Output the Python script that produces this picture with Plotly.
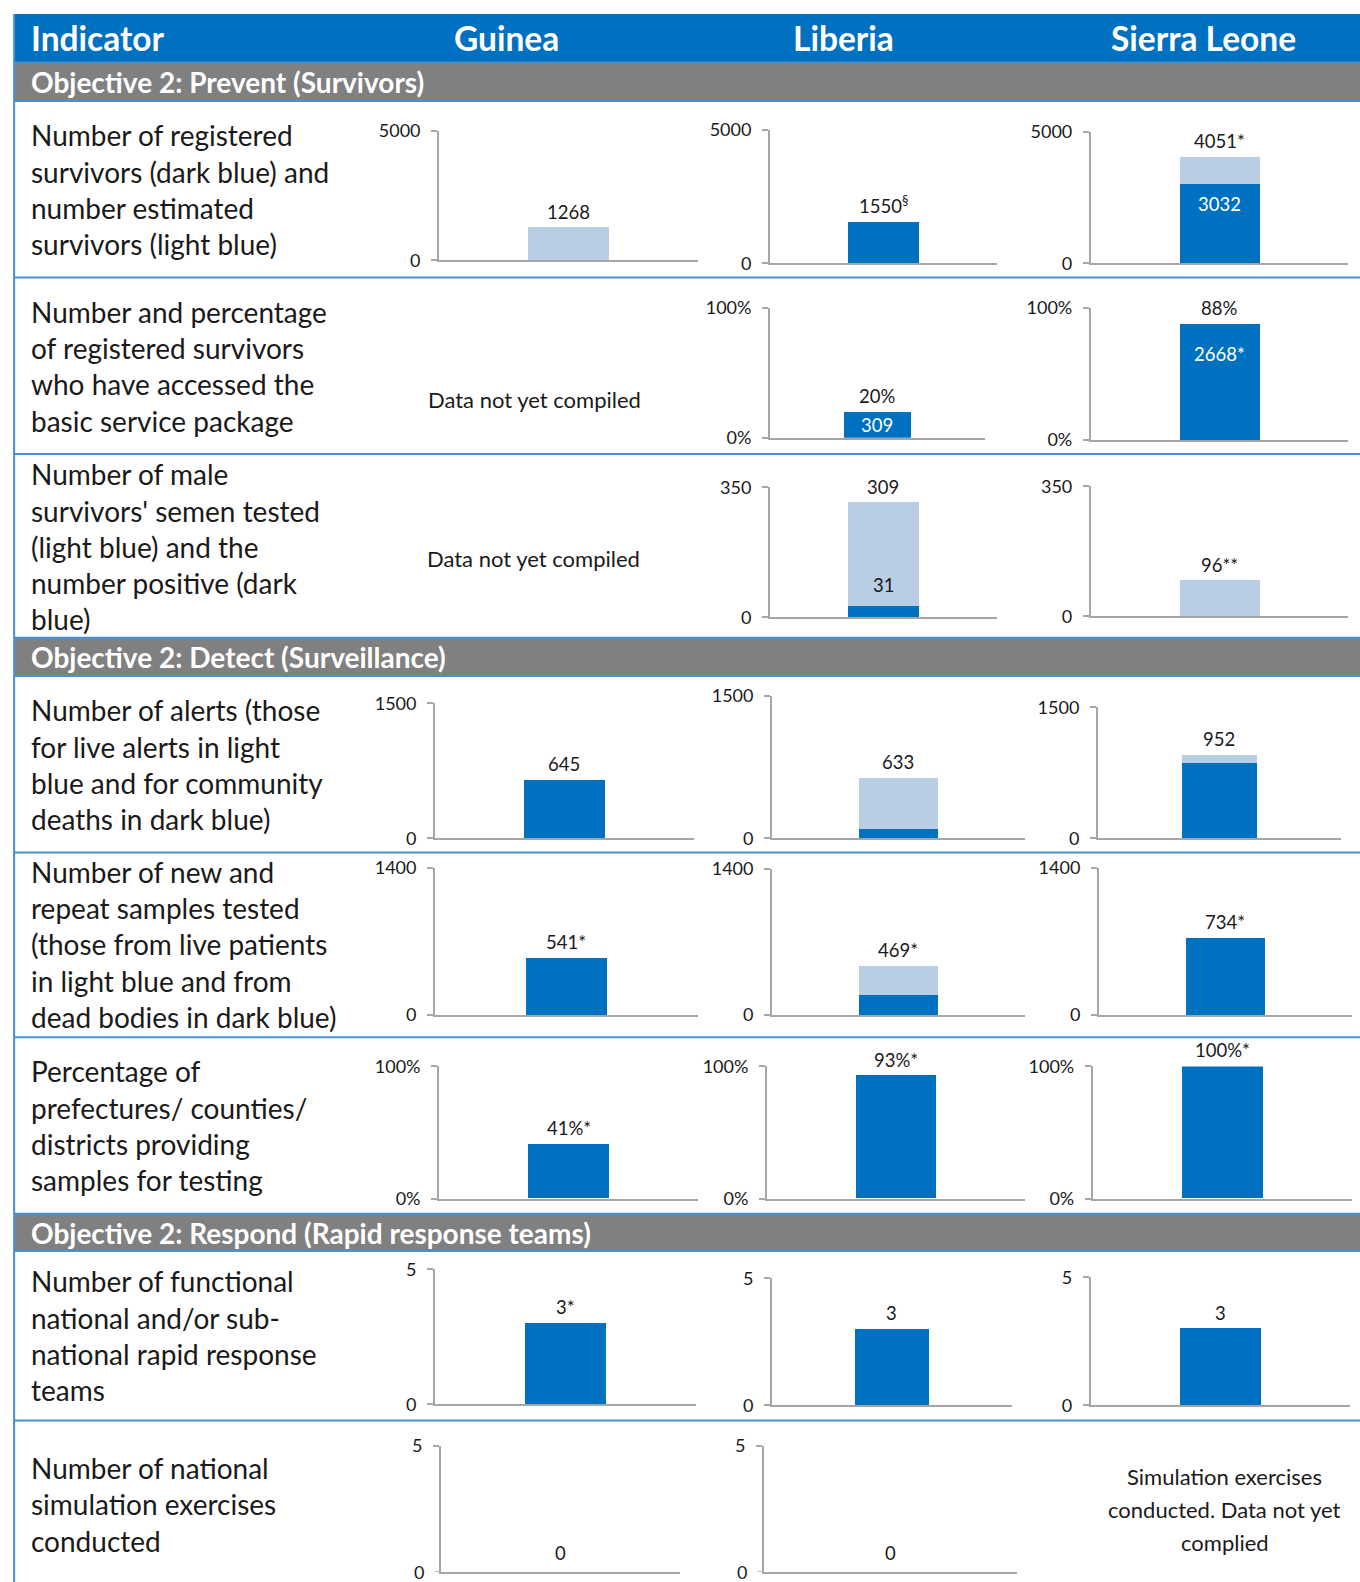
import plotly.graph_objects as go

W, H = 1360, 1582
S = 1360 / 1348.0  # reference-view px -> page px

# ---------------- DATA ----------------
countries = ["Guinea", "Liberia", "Sierra Leone"]
section_titles = [
    "Objective 2: Prevent (Survivors)",
    "Objective 2: Detect (Surveillance)",
    "Objective 2: Respond (Rapid response teams)",
]
indicator_lines = [
    ["Number of registered", "survivors (dark blue) and", "number estimated", "survivors (light blue)"],
    ["Number and percentage", "of registered survivors", "who have accessed the", "basic service package"],
    ["Number of male", "survivors' semen tested", "(light blue) and the", "number positive (dark", "blue)"],
    ["Number of alerts (those", "for live alerts in light", "blue and for community", "deaths in dark blue)"],
    ["Number of new and", "repeat samples tested", "(those from live patients", "in light blue and from", "dead bodies in dark blue)"],
    ["Percentage of", "prefectures/ counties/", "districts providing", "samples for testing"],
    ["Number of functional", "national and/or sub-", "national rapid response", "teams"],
    ["Number of national", "simulation exercises", "conducted"],
]
y_max = [5000, 100, 350, 1500, 1400, 100, 5, 5]
tick_top = ["5000", "100%", "350", "1500", "1400", "100%", "5", "5"]
tick_bottom = ["0", "0%", "0", "0", "0", "0%", "0", "0"]

# per indicator: values for Guinea, Liberia, Sierra Leone (None = no chart)
dark_values = [
    [0, 1550, 3032],
    [None, 20, 88],
    [None, 31, 0],
    [645, 95, 860],
    [541, 193, 734],
    [41, 93, 100],
    [3, 3, 3],
    [0, 0, None],
]
light_values = [
    [1268, 0, 1019],
    [None, 0, 0],
    [None, 278, 96],
    [0, 538, 92],
    [0, 276, 0],
    [0, 0, 0],
    [0, 0, 0],
    [0, 0, None],
]
top_labels = [
    ["1268", "1550<sup>§</sup>", "4051*"],
    [None, "20%", "88%"],
    [None, "309", "96**"],
    ["645", "633", "952"],
    ["541*", "469*", "734*"],
    ["41%*", "93%*", "100%*"],
    ["3*", "3", "3"],
    ["0", "0", None],
]
inner_labels = [
    [None, None, "3032"],
    [None, "309", "2668*"],
    [None, "31", None],
    [None, None, None],
    [None, None, None],
    [None, None, None],
    [None, None, None],
    [None, None, None],
]
notes = {
    (1, 0): ["Data not yet compiled"],
    (2, 0): ["Data not yet compiled"],
    (7, 2): ["Simulation exercises", "conducted. Data not yet", "complied"],
}

# ---------------- LAYOUT (reference px) ----------------
DARK = "#0070C0"
LIGHT = "#B9CDE5"
GRAY = "#808080"
SEP = "#4A8FD4"
AXIS = "#A6A6A6"
TXT = "#1a1a1a"
FONT = "Lato"
TICKLEN, STANDOFF = 6, 7

# chart boxes: (y-axis x, x-axis end, top tick y, baseline y) in view px
boxes = [
    [(435, 692, 130, 258), (763, 988, 129, 261), (1081, 1336, 131, 261)],
    [None, (763, 976, 305, 434), (1081, 1336, 305, 436)],
    [None, (763, 988, 483, 612), (1081, 1336, 482, 611)],
    [(431, 688, 697, 831), (765, 1016, 690, 831), (1088, 1329, 701, 831)],
    [(431, 692, 860, 1006), (765, 1016, 861, 1006), (1089, 1340, 860, 1006)],
    [(435, 692, 1057, 1188), (760, 1016, 1057, 1188), (1083, 1340, 1057, 1188)],
    [(431, 690, 1258, 1392), (765, 1003, 1267, 1393), (1081, 1338, 1266, 1393)],
    [(437, 674, 1433, 1558), (757, 1008, 1433, 1558), None],
]
first_line_y = [134, 309, 470, 704, 864, 1062, 1270, 1455]
note_pos = {(1, 0): (530, 396), (2, 0): (529, 554), (7, 2): (1214, 1463)}
sep_lines = [62, 100, 275, 450, 632, 670, 845, 1028, 1203, 1240, 1408]
gray_bands = [(62, 100), (632, 670), (1203, 1240)]
header_band = (14, 62)
left_x = 14
col_header_x = [(29, "left"), (502, "center"), (836, "center"), (1193, "center")]
LINE_STEP = 36


def fx(v):
    return v * S / W


def fy(v):
    return 1 - v * S / H


fig = go.Figure()
shapes, annotations = [], []

# backgrounds
shapes.append(dict(type="rect", xref="paper", yref="paper", x0=fx(left_x), x1=1,
                   y0=fy(header_band[1]), y1=fy(header_band[0]), fillcolor=DARK, line_width=0, layer="below"))
for (a, b) in gray_bands:
    shapes.append(dict(type="rect", xref="paper", yref="paper", x0=fx(left_x), x1=1,
                       y0=fy(b), y1=fy(a), fillcolor=GRAY, line_width=0, layer="below"))
for yv in sep_lines:
    shapes.append(dict(type="line", xref="paper", yref="paper", x0=fx(left_x), x1=1,
                       y0=fy(yv), y1=fy(yv), line=dict(color=SEP, width=2)))
shapes.append(dict(type="line", xref="paper", yref="paper", x0=fx(left_x), x1=fx(left_x),
                   y0=0, y1=fy(header_band[0]), line=dict(color=SEP, width=2)))

# column header
for (xv, anc), txt in zip(col_header_x, ["Indicator"] + countries):
    annotations.append(dict(xref="paper", yref="paper", x=fx(xv), y=fy(38), text="<b>%s</b>" % txt,
                            xanchor=anc, yanchor="middle", showarrow=False,
                            font=dict(family=FONT, size=33.5, color="white")))
# section titles
for (a, b), txt in zip(gray_bands, section_titles):
    annotations.append(dict(xref="paper", yref="paper", x=fx(29), y=fy((a + b) / 2 + 0.5), text="<b>%s</b>" % txt,
                            xanchor="left", yanchor="middle", showarrow=False,
                            font=dict(family=FONT, size=28, color="white")))
# indicator texts
for r, lines in enumerate(indicator_lines):
    for k, ln in enumerate(lines):
        annotations.append(dict(xref="paper", yref="paper", x=fx(29), y=fy(first_line_y[r] + k * LINE_STEP),
                                text=ln, xanchor="left", yanchor="middle", showarrow=False,
                                font=dict(family=FONT, size=28, color=TXT)))
# notes
for key, lines in notes.items():
    cx, cy = note_pos[key]
    step = 33 if len(lines) > 1 else 0
    for k, ln in enumerate(lines):
        annotations.append(dict(xref="paper", yref="paper", x=fx(cx), y=fy(cy + k * step), text=ln,
                                xanchor="center", yanchor="middle", showarrow=False,
                                font=dict(family=FONT, size=22, color=TXT)))

# charts
last_row = len(boxes) - 1
n = 0
for r in range(len(boxes)):
    for c in range(3):
        box = boxes[r][c]
        if box is None:
            continue
        n += 1
        xa, xe, ty, by = box
        xid = "x" if n == 1 else "x%d" % n
        yid = "y" if n == 1 else "y%d" % n
        xkey = "xaxis" if n == 1 else "xaxis%d" % n
        ykey = "yaxis" if n == 1 else "yaxis%d" % n
        if r != last_row:
            tv, tt = [0, y_max[r]], [tick_bottom[r], tick_top[r]]
        else:
            tv, tt = [y_max[r]], [tick_top[r]]
        fig.update_layout(**{
            xkey: dict(domain=[fx(xa), fx(xe)], range=[-0.5, 0.5], anchor=yid, showline=True,
                       linecolor=AXIS, linewidth=1.5, showticklabels=False, ticks="",
                       showgrid=False, zeroline=False, fixedrange=True, automargin=False),
            ykey: dict(domain=[fy(by), fy(ty)], range=[0, y_max[r]], anchor=xid, showline=True,
                       linecolor=AXIS, linewidth=1.5, tickvals=tv, ticktext=tt,
                       ticks="outside", ticklen=TICKLEN,
                       tickcolor=AXIS, tickwidth=1.5, ticklabelstandoff=STANDOFF,
                       tickfont=dict(family=FONT, size=18, color=TXT),
                       showgrid=False, zeroline=False, fixedrange=True, automargin=False),
        })
        if r == last_row:
            # bottom tick mark + label at the page edge
            shapes.append(dict(type="line", xref="%s domain" % xid, yref=yid, xsizemode="pixel",
                               xanchor=0, x0=-TICKLEN, x1=0, y0=0, y1=0,
                               line=dict(color=AXIS, width=1.5)))
            annotations.append(dict(xref="%s domain" % xid, yref=yid, x=0, y=0, text=tick_bottom[r],
                                    xanchor="right", yanchor="middle", xshift=-(TICKLEN + STANDOFF + 2),
                                    showarrow=False, font=dict(family=FONT, size=18, color=TXT)))
        d = dark_values[r][c] or 0
        l = light_values[r][c] or 0
        fig.add_trace(go.Bar(x=[0], y=[d], width=0.31, marker=dict(color=DARK, line_width=0),
                             xaxis=xid, yaxis=yid, showlegend=False, hoverinfo="skip"))
        fig.add_trace(go.Bar(x=[0], y=[l], width=0.31, marker=dict(color=LIGHT, line_width=0),
                             xaxis=xid, yaxis=yid, showlegend=False, hoverinfo="skip"))
        total = d + l
        if top_labels[r][c]:
            annotations.append(dict(xref=xid, yref=yid, x=0, y=total, text=top_labels[r][c],
                                    xanchor="center", yanchor="bottom", yshift=3 if total else 6,
                                    showarrow=False, font=dict(family=FONT, size=18.5, color=TXT)))
        il = inner_labels[r][c]
        if il:
            if r == 0:
                a = dict(y=d, yanchor="top", yshift=-7, font=dict(family=FONT, size=18.5, color="white"))
            elif r == 1 and c == 1:
                a = dict(y=d / 2, yanchor="middle", yshift=0, font=dict(family=FONT, size=18.5, color="white"))
            elif r == 1:
                a = dict(y=d, yanchor="top", yshift=-17, font=dict(family=FONT, size=18.5, color="white"))
            else:
                a = dict(y=d, yanchor="bottom", yshift=8, font=dict(family=FONT, size=18.5, color=TXT))
            a.update(xref=xid, yref=yid, x=0, text=il, xanchor="center", showarrow=False)
            annotations.append(a)

fig.update_layout(width=W, height=H, margin=dict(l=0, r=0, t=0, b=0, pad=0, autoexpand=False),
                  barmode="stack", paper_bgcolor="white", plot_bgcolor="rgba(0,0,0,0)",
                  shapes=shapes, annotations=annotations, bargap=0)

fig.write_html("out.html")
